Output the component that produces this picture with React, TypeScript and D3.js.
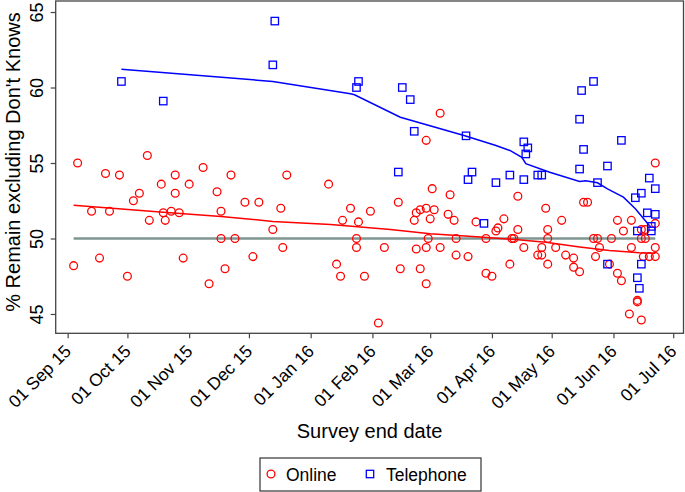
import React, { useEffect, useRef } from 'react';
import * as d3 from 'd3';

// online polls: end date + % remain (excl. don't knows)
const onlineDates = [
  '2015-09-04', '2015-09-06', '2015-09-13', '2015-09-17', '2015-09-20', '2015-09-22', '2015-09-27',
  '2015-10-01', '2015-10-04', '2015-10-07', '2015-10-11', '2015-10-12', '2015-10-18', '2015-10-19',
  '2015-10-20', '2015-10-23', '2015-10-25', '2015-10-25', '2015-10-27', '2015-10-29', '2015-11-01',
  '2015-11-08', '2015-11-11', '2015-11-15', '2015-11-17', '2015-11-17', '2015-11-19', '2015-11-22',
  '2015-11-24', '2015-11-29', '2015-12-03', '2015-12-06', '2015-12-13', '2015-12-17', '2015-12-18',
  '2015-12-20', '2016-01-10', '2016-01-14', '2016-01-16', '2016-01-17', '2016-01-21', '2016-01-24',
  '2016-01-24', '2016-01-25', '2016-01-28', '2016-01-31', '2016-02-04', '2016-02-07', '2016-02-14',
  '2016-02-15', '2016-02-22', '2016-02-23', '2016-02-23', '2016-02-25', '2016-02-25', '2016-02-28',
  '2016-02-28', '2016-02-28', '2016-02-28', '2016-02-29', '2016-03-01', '2016-03-02', '2016-03-03',
  '2016-03-06', '2016-03-06', '2016-03-10', '2016-03-11', '2016-03-13', '2016-03-14', '2016-03-14',
  '2016-03-20', '2016-03-24', '2016-03-29', '2016-03-29', '2016-04-01', '2016-04-03', '2016-04-04',
  '2016-04-07', '2016-04-10', '2016-04-11', '2016-04-12', '2016-04-14', '2016-04-14', '2016-04-17',
  '2016-04-24', '2016-04-26', '2016-04-26', '2016-04-28', '2016-04-29', '2016-04-29', '2016-04-29',
  '2016-05-03', '2016-05-06', '2016-05-08', '2016-05-12', '2016-05-12', '2016-05-15', '2016-05-17',
  '2016-05-19', '2016-05-22', '2016-05-23', '2016-05-24', '2016-05-25', '2016-05-30', '2016-05-31',
  '2016-06-03', '2016-06-03', '2016-06-05', '2016-06-06', '2016-06-09', '2016-06-10', '2016-06-10',
  '2016-06-13', '2016-06-13', '2016-06-15', '2016-06-15', '2016-06-15', '2016-06-16', '2016-06-17',
  '2016-06-17', '2016-06-19', '2016-06-22', '2016-06-22', '2016-06-22', '2016-06-22',
];
const onlineValues = [
  48.2, 55.0, 51.8, 48.7, 54.3, 51.8, 54.2,
  47.5, 52.5, 53.0, 55.5, 51.2, 53.6, 51.7,
  51.2, 51.8, 54.2, 53.0, 51.7, 48.7, 53.6,
  54.7, 47.0, 53.1, 51.8, 50.0, 48.0, 54.2,
  50.0, 52.4, 48.8, 52.4, 50.6, 52.0, 49.4,
  54.2, 53.6, 48.3, 47.5, 51.2, 52.0, 50.0,
  49.4, 51.1, 47.5, 51.8, 44.4, 49.4, 52.4,
  48.0, 51.2, 51.7, 49.3, 51.9, 48.0, 52.0,
  56.5, 49.4, 47.0, 50.0, 51.3, 53.3, 51.9,
  58.3, 49.4, 51.6, 52.9, 51.2, 50.0, 48.9,
  48.8, 51.1, 50.0, 47.7, 47.5, 50.5, 50.7,
  51.3, 48.3, 50.0, 50.0, 52.8, 50.6, 49.4,
  48.9, 48.9, 49.4, 52.0, 50.6, 50.0, 48.3,
  49.4, 51.2, 48.9, 48.7, 48.1, 47.8, 52.4,
  52.4, 50.0, 48.8, 50.0, 49.4, 48.3, 50.0,
  51.2, 47.7, 47.2, 50.5, 45.0, 51.2, 49.4,
  45.9, 45.8, 44.6, 50.6, 50.0, 48.8, 50.6,
  50.0, 48.8, 48.8, 49.4, 51.0, 55.0,
];

// telephone polls
const phoneDates = [
  '2015-09-28', '2015-10-19', '2015-12-14', '2015-12-13', '2016-01-24', '2016-01-25', '2016-02-14',
  '2016-02-16', '2016-02-20', '2016-02-22', '2016-03-19', '2016-03-20', '2016-03-22', '2016-03-28',
  '2016-04-03', '2016-04-10', '2016-04-17', '2016-04-17', '2016-04-18', '2016-04-19', '2016-04-24',
  '2016-04-26', '2016-05-15', '2016-05-15', '2016-05-16', '2016-05-17', '2016-05-22', '2016-05-24',
  '2016-05-29', '2016-05-29', '2016-06-05', '2016-06-12', '2016-06-13', '2016-06-13', '2016-06-14',
  '2016-06-15', '2016-06-15', '2016-06-18', '2016-06-19', '2016-06-20', '2016-06-20', '2016-06-22',
  '2016-06-22',
];
const phoneValues = [
  60.4, 59.1, 64.4, 61.5, 60.0, 60.4, 54.4,
  60.0, 59.2, 57.1, 56.8, 53.9, 54.4, 51.0,
  53.7, 54.2, 53.9, 56.4, 55.6, 56.0, 54.2,
  54.2, 57.9, 54.6, 59.8, 55.9, 60.4, 53.7,
  54.8, 48.3, 56.5, 52.7, 50.5, 47.4, 46.7,
  53.0, 48.3, 51.7, 54.0, 50.8, 50.5, 53.3,
  51.6,
];

// smoothed trends
const onlineTrendDates = [
  '2015-09-04', '2015-10-19', '2015-11-17', '2015-12-13', '2016-01-11', '2016-02-10', '2016-03-01',
  '2016-03-28', '2016-04-14', '2016-04-28', '2016-05-15', '2016-05-30', '2016-06-14', '2016-06-22',
];
const onlineTrendValues = [52.2, 51.74, 51.46, 51.13, 50.93, 50.6, 50.31, 50.09, 49.91, 49.75, 49.44, 49.2, 49.05, 49.03];

const phoneTrendDates = [
  '2015-09-28', '2015-12-13', '2016-01-21', '2016-01-23', '2016-02-15', '2016-03-18', '2016-04-03',
  '2016-04-10', '2016-04-16', '2016-04-18', '2016-04-30', '2016-05-15', '2016-05-18', '2016-05-24',
  '2016-05-29', '2016-06-06', '2016-06-12', '2016-06-19', '2016-06-20',
];
const phoneTrendValues = [
  61.21, 60.4, 59.58, 59.52, 58.03, 56.82, 56.16, 55.83, 55.38, 54.95, 54.39, 53.77, 53.82, 53.69,
  53.29, 52.74, 51.97, 50.86, 50.73,
];

const refDates = ['2015-09-04', '2016-06-22'];
const refValue = 50;

const xTicks = [
  '2015-09-01', '2015-10-01', '2015-11-01', '2015-12-01', '2016-01-01', '2016-02-01',
  '2016-03-01', '2016-04-01', '2016-05-01', '2016-06-01', '2016-07-01',
];
const yTicks = [45, 50, 55, 60, 65];

const W = 685;
const H = 492;
const left = 55.7;
const right = 683.5;
const top = 1;
const bottom = 333.3;
const FONT = '"Liberation Sans", Arial, Helvetica, sans-serif';

export default () => {
  const svgRef = useRef<SVGSVGElement>(null);

  useEffect(() => {
    if (!svgRef.current) return;
    const parse = d3.timeParse('%Y-%m-%d');
    const svg = d3.select(svgRef.current);
    svg.selectAll('*').remove();

    const x = d3.scaleTime()
      .domain([new Date(2015, 7, 26), new Date(2016, 6, 6, 4)])
      .range([left, right]);
    const y = d3.scaleLinear()
      .domain([43.72, 65.73])
      .range([bottom, top]);

    const online = onlineDates.map((d, i) => ({ date: parse(d)!, v: onlineValues[i] }));
    const phone = phoneDates.map((d, i) => ({ date: parse(d)!, v: phoneValues[i] }));
    const onlineTrend = onlineTrendDates.map((d, i) => ({ date: parse(d)!, v: onlineTrendValues[i] }));
    const phoneTrend = phoneTrendDates.map((d, i) => ({ date: parse(d)!, v: phoneTrendValues[i] }));

    const line = d3.line<{ date: Date; v: number }>()
      .x(d => x(d.date))
      .y(d => y(d.v));

    // reference line at 50
    svg.append('line')
      .attr('x1', x(parse(refDates[0])!))
      .attr('x2', x(parse(refDates[1])!))
      .attr('y1', y(refValue))
      .attr('y2', y(refValue))
      .attr('stroke', '#7f9690')
      .attr('stroke-width', 2.4);

    // points
    svg.append('g')
      .selectAll('circle')
      .data(online)
      .enter()
      .append('circle')
      .attr('cx', d => x(d.date))
      .attr('cy', d => y(d.v))
      .attr('r', 3.9)
      .attr('fill', 'none')
      .attr('stroke', '#ff0000')
      .attr('stroke-width', 1.3);

    svg.append('g')
      .selectAll('rect')
      .data(phone)
      .enter()
      .append('rect')
      .attr('x', d => x(d.date) - 3.7)
      .attr('y', d => y(d.v) - 3.7)
      .attr('width', 7.4)
      .attr('height', 7.4)
      .attr('fill', 'none')
      .attr('stroke', '#0000ff')
      .attr('stroke-width', 1.3);

    svg.append('path')
      .attr('d', line(onlineTrend) || '')
      .attr('fill', 'none')
      .attr('stroke', '#ff0000')
      .attr('stroke-width', 1.5);

    svg.append('path')
      .attr('d', line(phoneTrend) || '')
      .attr('fill', 'none')
      .attr('stroke', '#0000ff')
      .attr('stroke-width', 1.5);

    // frame
    svg.append('rect')
      .attr('x', left)
      .attr('y', top)
      .attr('width', right - left)
      .attr('height', bottom - top)
      .attr('fill', 'none')
      .attr('stroke', '#444')
      .attr('stroke-width', 1.3);

    // x axis
    const xAxis = d3.axisBottom(x)
      .tickValues(xTicks.map(d => parse(d)!))
      .tickFormat(d => d3.timeFormat('%d %b %y')(d as Date))
      .tickSize(5);
    const gx = svg.append('g')
      .attr('transform', `translate(0, ${bottom})`)
      .call(xAxis);
    gx.select('.domain').remove();
    gx.selectAll('line').attr('stroke', '#444').attr('stroke-width', 1.2);
    gx.selectAll('text')
      .attr('y', null)
      .attr('dy', null)
      .attr('transform', 'translate(4, 19) rotate(-45)')
      .attr('text-anchor', 'end')
      .attr('fill', '#000')
      .style('font-family', FONT)
      .style('font-size', '17.5px');

    // y axis
    const yAxis = d3.axisLeft(y).tickValues(yTicks).tickSize(5);
    const gy = svg.append('g')
      .attr('transform', `translate(${left}, 0)`)
      .call(yAxis);
    gy.select('.domain').remove();
    gy.selectAll('line').attr('stroke', '#444').attr('stroke-width', 1.2);
    gy.selectAll('text')
      .attr('x', 0)
      .attr('y', -12.4)
      .attr('dy', null)
      .attr('transform', 'rotate(-90)')
      .attr('text-anchor', 'middle')
      .attr('fill', '#000')
      .style('font-family', FONT)
      .style('font-size', '18px');

    // titles
    svg.append('text')
      .attr('x', (left + right) / 2)
      .attr('y', 438)
      .attr('text-anchor', 'middle')
      .style('font-family', FONT)
      .style('font-size', '20px')
      .text('Survey end date');

    svg.append('text')
      .attr('transform', `translate(20, ${162}) rotate(-90)`)
      .attr('text-anchor', 'middle')
      .style('font-family', FONT)
      .style('font-size', '20px')
      .text("% Remain excluding Don't Knows");

    // legend
    const lg = svg.append('g');
    lg.append('rect')
      .attr('x', 260)
      .attr('y', 458)
      .attr('width', 221)
      .attr('height', 33)
      .attr('fill', 'none')
      .attr('stroke', '#333')
      .attr('stroke-width', 1.2);
    lg.append('circle')
      .attr('cx', 271)
      .attr('cy', 474)
      .attr('r', 3.9)
      .attr('fill', 'none')
      .attr('stroke', '#ff0000')
      .attr('stroke-width', 1.3);
    lg.append('text')
      .attr('x', 286)
      .attr('y', 480.5)
      .style('font-family', FONT)
      .style('font-size', '17.5px')
      .text('Online');
    lg.append('rect')
      .attr('x', 366.3)
      .attr('y', 470.3)
      .attr('width', 7.4)
      .attr('height', 7.4)
      .attr('fill', 'none')
      .attr('stroke', '#0000ff')
      .attr('stroke-width', 1.3);
    lg.append('text')
      .attr('x', 386)
      .attr('y', 480.5)
      .style('font-family', FONT)
      .style('font-size', '17.5px')
      .text('Telephone');
  }, []);

  return (
    <svg
      ref={svgRef}
      width={W}
      height={H}
      style={{ position: 'absolute', left: 0, top: 0, background: '#fff' }}
    />
  );
};
